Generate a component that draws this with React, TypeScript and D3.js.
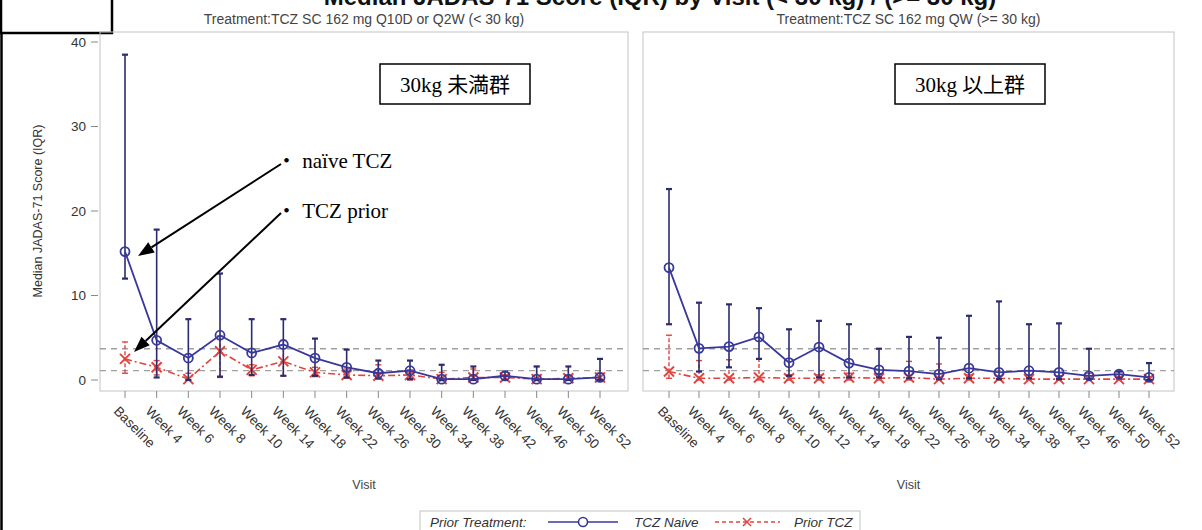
import React from "react";
import * as d3 from "d3";

const width = 1202;
const height = 530;

// visits (x categories)
const visitsLeft = ["Baseline", "Week 4", "Week 6", "Week 8", "Week 10", "Week 14", "Week 18", "Week 22", "Week 26", "Week 30", "Week 34", "Week 38", "Week 42", "Week 46", "Week 50", "Week 52"];
const visitsRight = ["Baseline", "Week 4", "Week 6", "Week 8", "Week 10", "Week 12", "Week 14", "Week 18", "Week 22", "Week 26", "Week 30", "Week 34", "Week 38", "Week 42", "Week 46", "Week 50", "Week 52"];

// < 30 kg
const naiveLeftMedian = [15.2, 4.7, 2.6, 5.3, 3.2, 4.2, 2.6, 1.5, 0.8, 1.1, 0.1, 0.1, 0.5, 0.1, 0.1, 0.3];
const naiveLeftQ1 = [12.0, 0.3, 0.0, 0.4, 0.6, 0.5, 0.5, 0.3, 0.2, 0.1, 0, 0, 0, 0, 0, 0];
const naiveLeftQ3 = [38.5, 17.8, 7.2, 12.6, 7.2, 7.2, 4.9, 3.6, 2.3, 2.3, 1.8, 1.6, 1.0, 1.6, 1.6, 2.5];
const priorLeftMedian = [2.5, 1.5, 0.1, 3.4, 1.2, 2.2, 0.9, 0.6, 0.5, 0.6, 0.1, 0.3, 0.3, 0.1, 0.2, 0.3];
const priorLeftQ1 = [0.8, 0.6, 0, 0.3, 0.5, 0.5, 0.4, 0.2, 0.1, 0, 0, 0, 0, 0, 0, 0];
const priorLeftQ3 = [4.5, 2.3, 0.8, 5.2, 1.8, 4.7, 1.5, 1.3, 1.8, 1.2, 0.9, 1.3, 0.6, 1.6, 0.5, 0.8];

// >= 30 kg
const naiveRightMedian = [13.3, 3.75, 3.95, 5.1, 2.05, 3.9, 2.0, 1.2, 1.05, 0.7, 1.4, 0.9, 1.1, 0.9, 0.5, 0.7, 0.3];
const naiveRightQ1 = [6.6, 1.0, 1.5, 2.5, 0.5, 0.3, 0.3, 0.3, 0.2, 0.1, 0.2, 0.1, 0.2, 0.1, 0.1, 0.2, 0.0];
const naiveRightQ3 = [22.6, 9.15, 8.95, 8.5, 6.0, 7.0, 6.6, 3.7, 5.1, 5.0, 7.6, 9.3, 6.6, 6.7, 3.7, 1.0, 2.0];
const priorRightMedian = [1.0, 0.2, 0.2, 0.3, 0.2, 0.2, 0.3, 0.2, 0.3, 0.1, 0.2, 0.2, 0.1, 0.1, 0.1, 0.1, 0.1];
const priorRightQ1 = [0.2, 0, 0, 0, 0, 0, 0, 0, 0, 0, 0, 0, 0, 0, 0, 0, 0];
const priorRightQ3 = [5.3, 2.3, 2.4, 2.5, 0.6, 0.6, 0.8, 0.6, 2.2, 1.9, 0.6, 0.5, 0.5, 0.5, 0.8, 0.4, 0.4];

const refLines = [3.7, 1.1];
const yTicks = [0, 10, 20, 30, 40];

const NAVY = "#38389c";
const BAR = "#2a2c6e";
const RED = "#e2453f";
const FRAME = "#c4c4c4";
const SANS = "'Liberation Sans', Arial, sans-serif";
const SERIF = "'Liberation Serif', 'Noto Sans CJK JP', serif";

const y = d3.scaleLinear().domain([0, 40]).range([380, 42]);

function Panel({ x0, x1, first, last, visits, title, naive, prior }) {
  const x = d3.scalePoint().domain(visits).range([first, last]);
  const top = 32;
  const bottom = 391;
  const line = d3.line().x((d, i) => x(visits[i])).y(d => y(d));

  return (
    <g>
      <text x={(x0 + x1) / 2} y={24} textAnchor="middle" fontFamily={SANS} fontSize={14} fill="#444">{title}</text>
      <rect x={x0} y={top} width={x1 - x0} height={bottom - top} fill="none" stroke={FRAME} />
      {refLines.map(r => (
        <line key={r} x1={x0} x2={x1} y1={y(r)} y2={y(r)} stroke="#a0a0a0" strokeWidth={1.3} strokeDasharray="6,5" />
      ))}
      {visits.map(v => (
        <g key={v}>
          <line x1={x(v)} x2={x(v)} y1={bottom} y2={bottom + 7} stroke="#888" />
          <text transform={`translate(${x(v) - 12},${bottom + 21}) rotate(45)`} fontFamily={SANS} fontSize={13.5} fill="#333">{v}</text>
        </g>
      ))}
      <text x={(x0 + x1) / 2} y={489} textAnchor="middle" fontFamily={SANS} fontSize={12.5} fill="#444">Visit</text>

      {/* prior TCZ */}
      {prior.median.map((m, i) => {
        const cx = x(visits[i]);
        return (
          <g key={"pe" + i} stroke={RED} strokeWidth={1.4}>
            <line x1={cx} x2={cx} y1={y(prior.q1[i])} y2={y(prior.q3[i])} strokeDasharray="4,2" />
            <line x1={cx - 3} x2={cx + 3} y1={y(prior.q3[i])} y2={y(prior.q3[i])} />
            <line x1={cx - 3} x2={cx + 3} y1={y(prior.q1[i])} y2={y(prior.q1[i])} />
          </g>
        );
      })}
      <path d={line(prior.median)} fill="none" stroke={RED} strokeWidth={1.6} strokeDasharray="7,3,2,3" />
      {prior.median.map((m, i) => {
        const cx = x(visits[i]);
        const cy = y(m);
        return (
          <g key={"px" + i} stroke={RED} strokeWidth={2}>
            <line x1={cx - 5} x2={cx + 5} y1={cy - 5} y2={cy + 5} />
            <line x1={cx - 5} x2={cx + 5} y1={cy + 5} y2={cy - 5} />
          </g>
        );
      })}

      {/* TCZ naive */}
      {naive.median.map((m, i) => {
        const cx = x(visits[i]);
        return (
          <g key={"ne" + i} stroke={BAR} strokeWidth={1.6}>
            <line x1={cx} x2={cx} y1={y(naive.q1[i])} y2={y(naive.q3[i])} />
            <line x1={cx - 3} x2={cx + 3} y1={y(naive.q3[i])} y2={y(naive.q3[i])} strokeWidth={2.2} />
            <line x1={cx - 3} x2={cx + 3} y1={y(naive.q1[i])} y2={y(naive.q1[i])} strokeWidth={2.2} />
          </g>
        );
      })}
      <path d={line(naive.median)} fill="none" stroke={NAVY} strokeWidth={1.8} />
      {naive.median.map((m, i) => (
        <circle key={"nc" + i} cx={x(visits[i])} cy={y(m)} r={4.5} fill="none" stroke={NAVY} strokeWidth={1.8} />
      ))}
    </g>
  );
}

function Arrow({ x1, y1, x2, y2 }) {
  const a = Math.atan2(y2 - y1, x2 - x1);
  const L = 16;
  const w = 6;
  const bx = x2 - L * Math.cos(a);
  const by = y2 - L * Math.sin(a);
  const px = -Math.sin(a) * w;
  const py = Math.cos(a) * w;
  return (
    <g>
      <line x1={x1} y1={y1} x2={bx} y2={by} stroke="#000" strokeWidth={2} />
      <path d={`M${x2},${y2}L${bx + px},${by + py}L${bx - px},${by - py}Z`} fill="#000" />
    </g>
  );
}

export default function App() {
  return (
    <svg width={width} height={height} style={{ position: "absolute", left: 0, top: 0, background: "#fff" }}>
      <rect width={width} height={height} fill="#fff" />
      {/* figure title, cut off at the top edge as in the source */}
      <text x={660} y={5} textAnchor="middle" fontFamily={SANS} fontWeight="bold" fontSize={24} fill="#111">
        Median JADAS-71 Score (IQR) by Visit (&lt; 30 kg) / (&gt;= 30 kg)
      </text>
      <line x1={1.5} x2={1.5} y1={0} y2={height} stroke="#000" strokeWidth={2.5} />
      <rect x={1} y={-2} width={111} height={35} fill="#fff" stroke="#000" strokeWidth={2.5} />

      {/* y axis */}
      {yTicks.map(t => (
        <g key={t}>
          <line x1={91} x2={98} y1={y(t)} y2={y(t)} stroke="#888" />
          <text x={86} y={y(t) + 4.5} textAnchor="end" fontFamily={SANS} fontSize={13.5} fill="#333">{t}</text>
        </g>
      ))}
      <text transform="translate(42,211) rotate(-90)" textAnchor="middle" fontFamily={SANS} fontSize={12.5} fill="#333">
        Median JADAS-71 Score (IQR)
      </text>

      <Panel x0={100} x1={628} first={125} last={600} visits={visitsLeft}
        title="Treatment:TCZ SC 162 mg Q10D or Q2W (< 30 kg)"
        naive={{ median: naiveLeftMedian, q1: naiveLeftQ1, q3: naiveLeftQ3 }}
        prior={{ median: priorLeftMedian, q1: priorLeftQ1, q3: priorLeftQ3 }} />
      <Panel x0={643} x1={1174} first={669} last={1149} visits={visitsRight}
        title="Treatment:TCZ SC 162 mg QW (>= 30 kg)"
        naive={{ median: naiveRightMedian, q1: naiveRightQ1, q3: naiveRightQ3 }}
        prior={{ median: priorRightMedian, q1: priorRightQ1, q3: priorRightQ3 }} />

      {/* annotations */}
      <rect x={380} y={64} width={150} height={40} fill="#fff" stroke="#000" strokeWidth={1.5} />
      <text x={455} y={92} textAnchor="middle" fontFamily={SERIF} fontSize={21} fill="#000">30kg 未満群</text>
      <rect x={895} y={64} width={150} height={40} fill="#fff" stroke="#000" strokeWidth={1.5} />
      <text x={970} y={92} textAnchor="middle" fontFamily={SERIF} fontSize={21} fill="#000">30kg 以上群</text>

      <text x={276} y={168} fontFamily={SERIF} fontSize={21} fill="#000">・ naïve TCZ</text>
      <text x={276} y={218} fontFamily={SERIF} fontSize={21} fill="#000">・ TCZ prior</text>
      <Arrow x1={281} y1={164} x2={138} y2={256} />
      <Arrow x1={281} y1={213} x2={134} y2={352} />

      {/* legend */}
      <rect x={420} y={511} width={440} height={26} fill="#fff" stroke={FRAME} />
      <text x={430} y={527} fontFamily={SANS} fontStyle="italic" fontSize={13.5} fill="#333">Prior Treatment:</text>
      <line x1={548} x2={618} y1={522} y2={522} stroke={NAVY} strokeWidth={1.6} />
      <circle cx={583} cy={522} r={4.5} fill="#fff" stroke={NAVY} strokeWidth={1.6} />
      <text x={634} y={527} fontFamily={SANS} fontStyle="italic" fontSize={13.5} fill="#333">TCZ Naive</text>
      <line x1={715} x2={780} y1={522} y2={522} stroke={RED} strokeWidth={1.4} strokeDasharray="4,3" />
      <g stroke={RED} strokeWidth={1.6}>
        <line x1={743} x2={751} y1={518} y2={526} />
        <line x1={743} x2={751} y1={526} y2={518} />
      </g>
      <text x={794} y={527} fontFamily={SANS} fontStyle="italic" fontSize={13.5} fill="#333">Prior TCZ</text>
    </svg>
  );
}
